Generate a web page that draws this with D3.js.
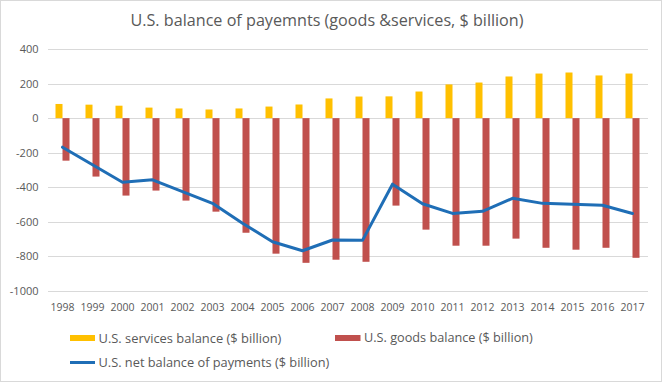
<!DOCTYPE html>
<html><head><meta charset="utf-8">
<script src="https://cdn.jsdelivr.net/npm/d3@7"></script>
<style>html,body{margin:0;padding:0;background:#fff}svg{display:block}text{font-family:"Open Sans","Noto Sans",sans-serif}</style>
</head><body>
<svg id="c" width="662" height="382"></svg>
<script>
const years = ["1998","1999","2000","2001","2002","2003","2004","2005","2006","2007","2008","2009","2010","2011","2012","2013","2014","2015","2016","2017"];
const services = [82, 78, 72, 61, 56, 50, 56, 67, 79, 114, 125, 126, 154, 195, 206, 241, 258, 264, 247, 258];
const goods = [-246, -338, -448, -419, -477, -541, -663, -784, -837, -819, -831, -506, -645, -738, -738, -697, -750, -761, -750, -808];
const net = [-168, -270, -371, -357, -425, -493, -608, -715, -767, -705, -707, -382, -495, -551, -539, -464, -493, -498, -504, -552];
const yTicks = [400, 200, 0, -200, -400, -600, -800, -1000];
const title = "U.S. balance of payemnts (goods &services, $ billion)";
const seriesNames = ["U.S. services balance ($ billion)", "U.S. goods balance ($ billion)", "U.S. net balance of payments ($ billion)"];
const colors = {services: "#FFC000", goods: "#C0504D", net: "#1F6EB6"};

const svg = d3.select("#c");
svg.append("rect").attr("x",0.5).attr("y",0.5).attr("width",661).attr("height",381)
  .attr("fill","#fff").attr("stroke","#d9d9d9");

const x = d3.scaleBand().domain(years).range([47.5, 647.5]);
const y = d3.scaleLinear().domain([-1000, 400]).range([291, 49]);

function fit(sel, w){
  const n = sel.node(); const fs = parseFloat(sel.attr("font-size"));
  const l = n.getComputedTextLength(); sel.attr("font-size", (fs*w/l).toFixed(2));
}

// gridlines
const gridAxis = d3.axisLeft(y).tickValues(yTicks).tickSize(-600).tickFormat(d=>d);
const gy = svg.append("g").attr("transform","translate(47.5,0)").call(gridAxis);
gy.select(".domain").remove();
gy.selectAll(".tick line").attr("stroke","#d9d9d9").attr("shape-rendering","crispEdges");
gy.selectAll(".tick text").attr("fill","#595959").attr("font-size",11).attr("x",-9)
  .style("font-family",'"Open Sans",sans-serif');

// x labels
const xAxis = d3.axisBottom(x).tickSize(0).tickPadding(0);
const gx = svg.append("g").attr("transform","translate(0,304)").call(xAxis);
gx.select(".domain").remove();
gx.selectAll(".tick text").attr("fill","#595959").attr("font-size",10.5).attr("dy","0.71em")
  .style("font-family",'"Open Sans",sans-serif');

// bars
const bw = 7;
svg.append("g").selectAll("rect").data(services).join("rect")
  .attr("x",(d,i)=>x(years[i])+x.bandwidth()/2-bw).attr("width",bw)
  .attr("y",d=>y(d)).attr("height",d=>y(0)-y(d)).attr("fill",colors.services);
svg.append("g").selectAll("rect").data(goods).join("rect")
  .attr("x",(d,i)=>x(years[i])+x.bandwidth()/2).attr("width",bw)
  .attr("y",y(0)).attr("height",d=>y(d)-y(0)).attr("fill",colors.goods);

// line
const line = d3.line().x((d,i)=>x(years[i])+x.bandwidth()/2).y(d=>y(d));
svg.append("path").datum(net).attr("d",line).attr("fill","none")
  .attr("stroke",colors.net).attr("stroke-width",3).attr("stroke-linejoin","round").attr("stroke-linecap","round");

// title
const t = svg.append("text").attr("x",327).attr("y",26).attr("text-anchor","middle")
  .attr("font-size",17).attr("fill","#595959").text(title);
fit(t, 393);

// legend
const lg = svg.append("g");
lg.append("rect").attr("x",70).attr("y",335).attr("width",25).attr("height",6).attr("fill",colors.services);
const l1 = lg.append("text").attr("x",98.5).attr("y",338).attr("dy","0.35em").attr("font-size",12).attr("fill","#595959").text(seriesNames[0]);
fit(l1, 183);
lg.append("rect").attr("x",335).attr("y",335).attr("width",25.5).attr("height",6).attr("fill",colors.goods);
const l2 = lg.append("text").attr("x",364).attr("y",338).attr("dy","0.35em").attr("font-size",12).attr("fill","#595959").text(seriesNames[1]);
fit(l2, 169);
lg.append("line").attr("x1",70).attr("x2",95).attr("y1",362.5).attr("y2",362.5).attr("stroke",colors.net).attr("stroke-width",3);
const l3 = lg.append("text").attr("x",98.5).attr("y",362.5).attr("dy","0.35em").attr("font-size",12).attr("fill","#595959").text(seriesNames[2]);
fit(l3, 231);
</script>
</body></html>
